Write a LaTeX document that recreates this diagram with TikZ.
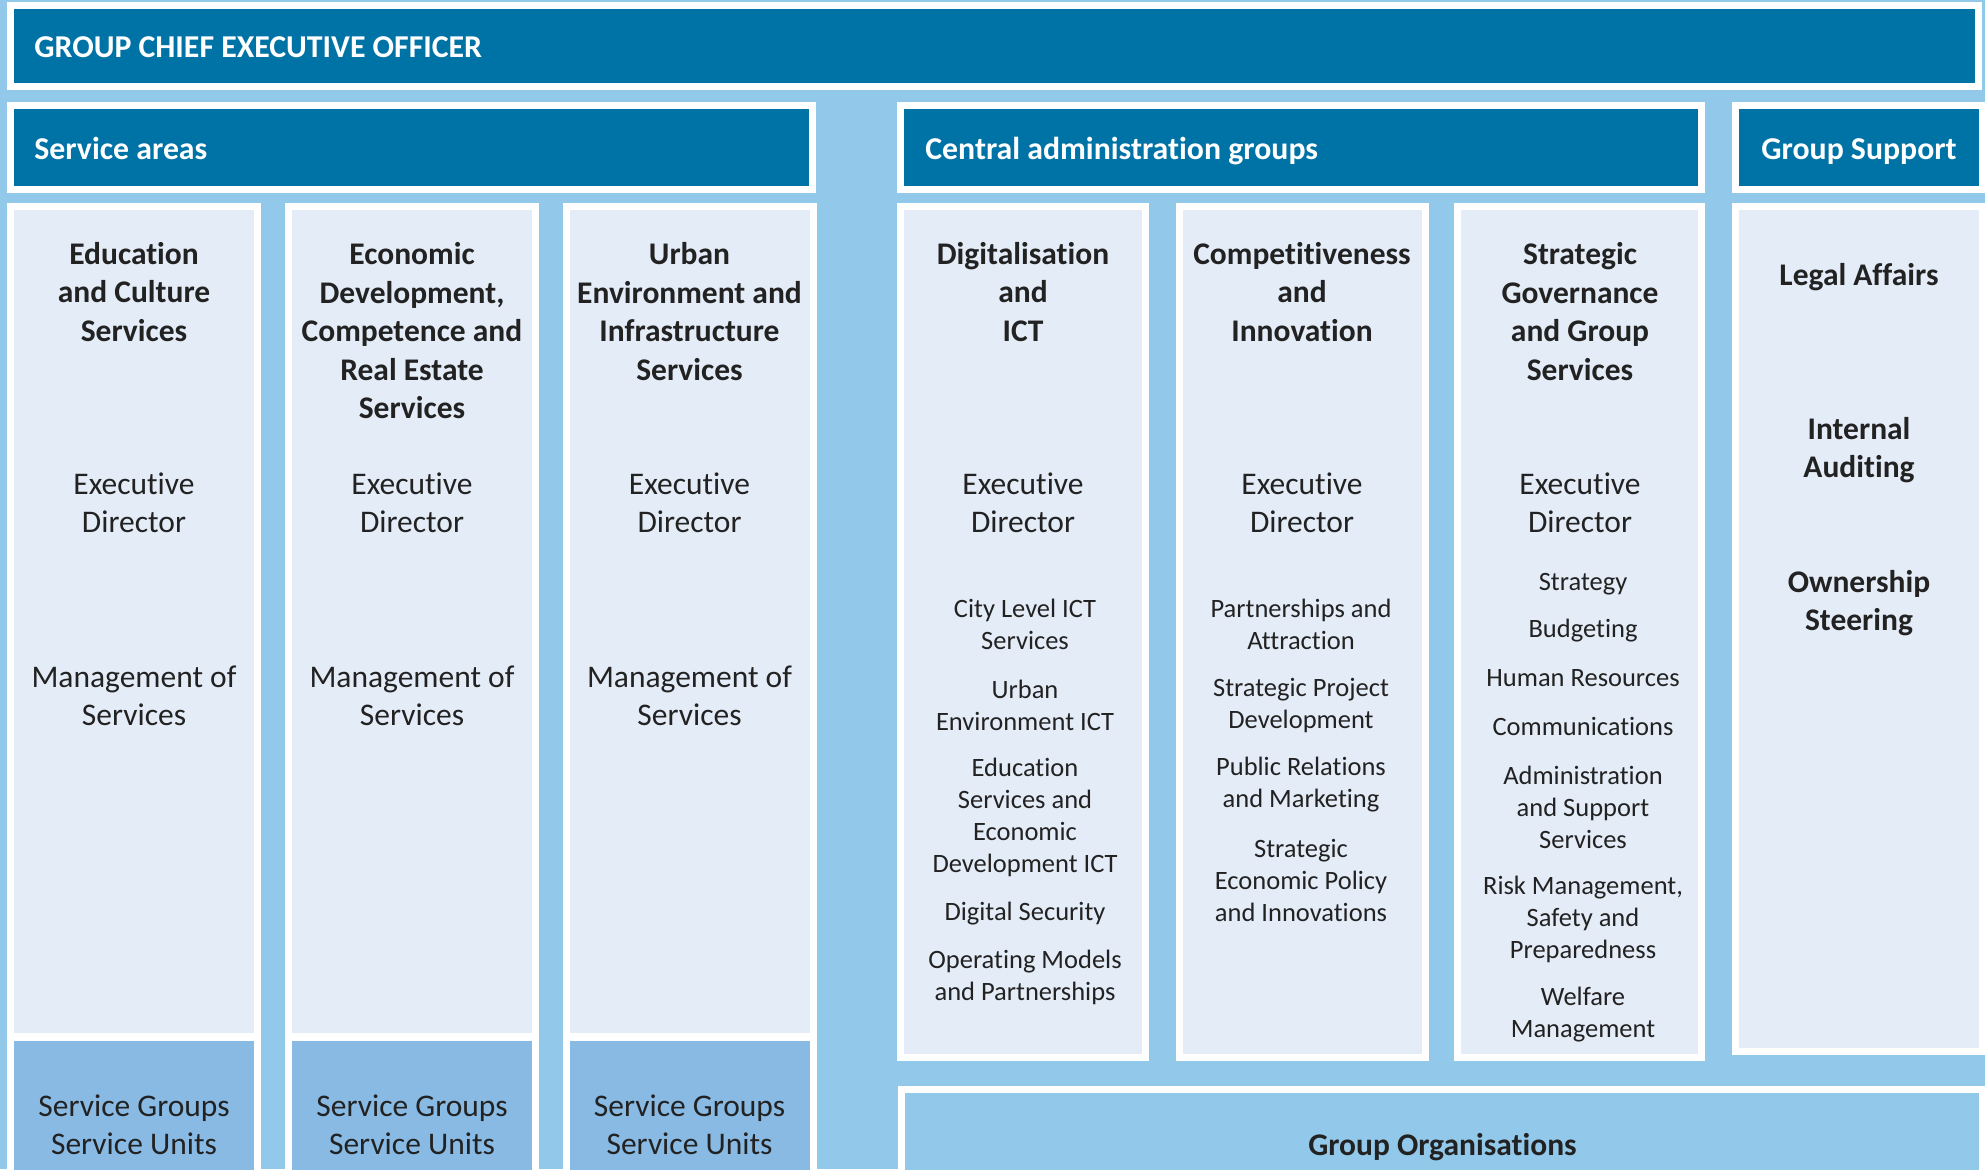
\documentclass[tikz,border=0pt]{standalone}
\usepackage{fontspec}
\setmainfont{Carlito}[Ligatures=NoCommon]
\definecolor{bgblue}{HTML}{92C8E9}
\definecolor{hdrblue}{HTML}{0073A6}
\definecolor{colfill}{HTML}{E4ECF7}
\definecolor{sgfill}{HTML}{88BAE4}
\definecolor{txt}{HTML}{222222}
\tikzset{
  big/.style={font=\fontsize{15.75}{19.25}\selectfont, text=txt, align=center, inner sep=0pt},
  bigb/.style={font=\fontsize{15.75}{19.25}\selectfont\bfseries, text=txt, align=center, inner sep=0pt},
  itm/.style={font=\fontsize{13.25}{16}\selectfont, text=txt, align=center, inner sep=0pt},
  hdr/.style={font=\fontsize{15.9}{19.25}\selectfont\bfseries, text=white, inner sep=0pt, text height=10.2pt, text depth=0pt},
  frame/.style={fill=white},
}
\newcommand\orgbox[5]{%
  \fill[frame] (#1,#2) rectangle (#3,#4);
  \fill[#5] ({#1+7},{#2+7}) rectangle ({#3-7},{#4-7});}
\newcommand\svcol[2]{%
  \fill[frame] (#1,203) rectangle (#2,1180);
  \fill[colfill] ({#1+7},210) rectangle ({#2-7},1032.5);
  \fill[sgfill] ({#1+7},1040.5) rectangle ({#2-7},1180);}
\begin{document}
\begin{tikzpicture}[x=0.5pt,y=-0.5pt]
\useasboundingbox (0,0) rectangle (1985,1169);
\clip (0,0) rectangle (1985,1169);
\fill[bgblue] (0,0) rectangle (1985,1169);
% top and headers
\orgbox{7}{2}{1982}{90}{hdrblue}
\orgbox{7}{101.5}{816}{192.5}{hdrblue}
\orgbox{897}{101.5}{1704.5}{192.5}{hdrblue}
\orgbox{1731.5}{101.5}{1986}{192.5}{hdrblue}
% service area columns
\svcol{7}{261}
\svcol{285}{539}
\svcol{563}{817}
% central administration columns
\orgbox{897}{203}{1149}{1060.5}{colfill}
\orgbox{1175.5}{203}{1429}{1060.5}{colfill}
\orgbox{1453.5}{203}{1705}{1060.5}{colfill}
\orgbox{1731.5}{203}{1985.5}{1054.5}{colfill}
% group organisations
\orgbox{898}{1085.5}{1985.5}{1185}{bgblue}

% header texts
\node[hdr, anchor=west] (ceo) at (34,47) {GROUP CHIEF EXECUTIVE OFFICER};
\node[hdr, anchor=west] (sa) at (34,149) {Service areas};
\node[hdr, anchor=west] (cag) at (925,149) {Central administration groups};
\node[hdr] (gs) at (1859,149) {Group Support};

% column titles
\node[bigb] (t1) at (134,292) {Education\\and Culture\\Services};
\node[bigb] (t2) at (412,331) {Economic\\Development,\\Competence and\\Real Estate\\Services};
\node[bigb] (t3) at (689.5,311.5) {Urban\\Environment and\\Infrastructure\\Services};
\node[bigb] (t4) at (1023,292) {Digitalisation\\and\\ICT};
\node[bigb] (t5) at (1302,292) {Competitiveness\\and\\Innovation};
\node[bigb] (t6) at (1580,311.5) {Strategic\\Governance\\and Group\\Services};
\node[bigb] (t7a) at (1859,277) {Legal Affairs};
\node[bigb] (t7b) at (1859,450) {Internal\\Auditing};
\node[bigb] (t7c) at (1859,603) {Ownership\\Steering};

% executive directors
\node[big] (e1) at (134,503) {Executive\\Director};
\node[big] (e2) at (412,503) {Executive\\Director};
\node[big] (e3) at (689.5,503) {Executive\\Director};
\node[big] (e4) at (1023,503) {Executive\\Director};
\node[big] (e5) at (1302,503) {Executive\\Director};
\node[big] (e6) at (1580,503) {Executive\\Director};

% management of services
\node[big] (m1) at (134,696) {Management of\\Services};
\node[big] (m2) at (412,696) {Management of\\Services};
\node[big] (m3) at (689.5,696) {Management of\\Services};

% service groups
\node[big] (s1) at (134,1125) {Service Groups\\Service Units};
\node[big] (s2) at (412,1125) {Service Groups\\Service Units};
\node[big] (s3) at (689.5,1125) {Service Groups\\Service Units};

% digitalisation items
\node[itm] (d1) at (1025,624.5) {City Level ICT\\Services};
\node[itm] (d2) at (1025,705) {Urban\\Environment ICT};
\node[itm] (d3) at (1025,817.5) {Education\\Services and\\Economic\\Development ICT};
\node[itm] (d4) at (1025,914) {Digital Security};
\node[itm] (d5) at (1025,977.5) {Operating Models\\and Partnerships};

% competitiveness items
\node[itm] (k1) at (1301,624.5) {Partnerships and\\Attraction};
\node[itm] (k2) at (1301,705.5) {Strategic Project\\Development};
\node[itm] (k3) at (1301,785) {Public Relations\\and Marketing};
\node[itm] (k4) at (1301,880.5) {Strategic\\Economic Policy\\and Innovations};

% strategic governance items
\node[itm] (g1) at (1583,584) {Strategy};
\node[itm] (g2) at (1583,631) {Budgeting};
\node[itm] (g3) at (1583,678) {Human Resources};
\node[itm] (g4) at (1583,726) {Communications};
\node[itm] (g5) at (1583,807) {Administration\\and Support\\Services};
\node[itm] (g6) at (1583,919) {Risk Management,\\Safety and\\Preparedness};
\node[itm] (g7) at (1583,1015) {Welfare\\Management};

% group organisations
\node[bigb] (go) at (1442.5,1147) {Group Organisations};
\end{tikzpicture}
\end{document}
